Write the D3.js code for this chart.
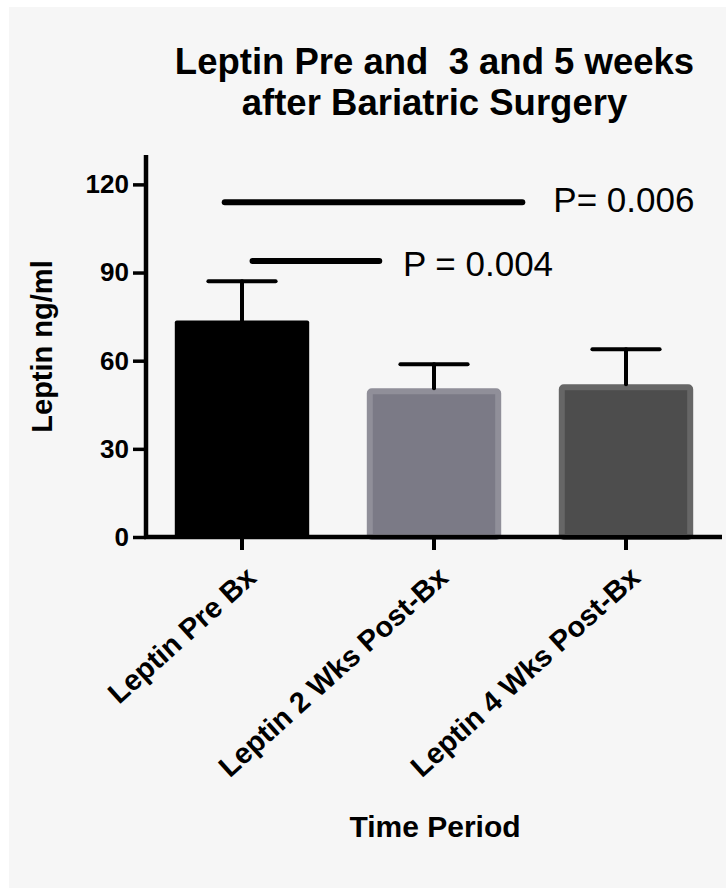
<!DOCTYPE html>
<html>
<head>
<meta charset="utf-8">
<script src="https://cdn.jsdelivr.net/npm/d3@7"></script>
<style>
  html, body { margin: 0; padding: 0; background: #ffffff; }
  svg { display: block; }
  text { font-family: "Liberation Sans", Arial, Helvetica, sans-serif; white-space: pre; }
</style>
</head>
<body>
<div id="chart"></div>
<script>
// ---- data ----
const categories = ["Leptin Pre Bx", "Leptin 2 Wks Post-Bx", "Leptin 4 Wks Post-Bx"];
const means = [73.7, 50.6, 52.0];
const sem = [13.3, 8.2, 11.9];
const yTicks = [0, 30, 60, 90, 120];
const titleLines = ["Leptin Pre and  3 and 5 weeks", "after Bariatric Surgery"];
const yTitle = "Leptin ng/ml";
const xTitle = "Time Period";
// significance annotations (x in category-index units, y in data units)
const sigFrom = [-0.09, 0.055];
const sigTo = [1.46, 0.715];
const sigY = [113.9, 93.9];
const sigLabels = ["P= 0.006", "P = 0.004"];

// ---- layout / style ----
const W = 726, H = 888;
const plot = { left: 146, right: 722, top: 155, bottom: 537 };
const barFill = ["#000000", "#7b7a86", "#4d4d4d"];
const barStroke = ["#000000", "#908f99", "#666666"];

const svg = d3.select("#chart").append("svg")
  .attr("width", W).attr("height", H);

// background panel
svg.append("rect").attr("x", 9).attr("y", 7).attr("width", W - 9).attr("height", H - 7)
  .attr("fill", "#f6f6f6");

const x = d3.scaleBand().domain(categories)
  .range([plot.left, plot.right]).paddingInner(0.3).paddingOuter(0.15);
const y = d3.scaleLinear().domain([0, 130]).range([plot.bottom, plot.top]);
const xi = d3.scaleLinear().domain([0, 1])
  .range([x(categories[0]) + x.bandwidth() / 2, x(categories[1]) + x.bandwidth() / 2]);

// title
svg.append("g").selectAll("text").data(titleLines).join("text")
  .attr("x", 434.5).attr("y", (d, i) => 73.5 + i * 41.5)
  .attr("text-anchor", "middle").attr("font-weight", "bold").attr("font-size", 36.5)
  .attr("fill", "#000").text(d => d);

// bars
const sw = 6;
svg.append("g").selectAll("rect").data(categories).join("rect")
  .attr("x", (d, i) => x(d) + (i ? sw / 2 : 0))
  .attr("y", (d, i) => y(means[i]) + (i ? sw / 2 : 0))
  .attr("width", (d, i) => x.bandwidth() - (i ? sw : 0))
  .attr("height", (d, i) => y(0) - y(means[i]) - (i ? sw / 2 : 0))
  .attr("rx", 2)
  .attr("fill", (d, i) => barFill[i])
  .attr("stroke", (d, i) => barStroke[i])
  .attr("stroke-width", (d, i) => i ? sw : 0);

// error bars (upper only)
const eb = svg.append("g").attr("stroke", "#000").attr("stroke-width", 4).attr("stroke-linecap", "round");
categories.forEach((c, i) => {
  const cx = x(c) + x.bandwidth() / 2;
  const capW = x.bandwidth() * 0.25;
  eb.append("line").attr("x1", cx).attr("x2", cx)
    .attr("y1", y(means[i])).attr("y2", y(means[i] + sem[i]));
  eb.append("line").attr("x1", cx - capW).attr("x2", cx + capW)
    .attr("y1", y(means[i] + sem[i])).attr("y2", y(means[i] + sem[i]));
});

// y axis
const yAxis = d3.axisLeft(y).tickValues(yTicks).tickSize(13).tickPadding(4).tickSizeOuter(0);
const gy = svg.append("g").attr("transform", `translate(${plot.left},0)`).call(yAxis);
gy.select(".domain").attr("stroke", "#000").attr("stroke-width", 4.5)
  .attr("d", `M0,${plot.top}V${plot.bottom + 2}`);
gy.selectAll(".tick line").attr("stroke", "#000").attr("stroke-width", 3.5);
gy.selectAll(".tick text").attr("font-size", 26).attr("font-weight", "bold").attr("fill", "#000")
  .attr("font-family", "Liberation Sans, Arial, sans-serif");

// x axis
const xAxis = d3.axisBottom(x).tickSize(13).tickSizeOuter(0).tickFormat("");
const gx = svg.append("g").attr("transform", `translate(0,${plot.bottom})`).call(xAxis);
gx.select(".domain").attr("stroke", "#000").attr("stroke-width", 4.5)
  .attr("d", `M${plot.left - 2},0H${plot.right}`);
gx.selectAll(".tick line").attr("stroke", "#000").attr("stroke-width", 4);

// rotated x labels
svg.append("g").selectAll("text").data(categories).join("text")
  .attr("transform", d => `translate(${x(d) + x.bandwidth() / 2 + 16},${580}) rotate(-42)`)
  .attr("text-anchor", "end").attr("font-weight", "bold").attr("font-size", 29)
  .attr("fill", "#000").text(d => d);

// axis titles
svg.append("text").attr("transform", `translate(52,346.5) rotate(-90)`)
  .attr("text-anchor", "middle").attr("font-weight", "bold").attr("font-size", 29)
  .attr("fill", "#000").text(yTitle);
svg.append("text").attr("x", 435).attr("y", 837)
  .attr("text-anchor", "middle").attr("font-weight", "bold").attr("font-size", 30)
  .attr("fill", "#000").text(xTitle);

// significance lines
const sigGap = [31, 23.6], sigDy = [9.3, 15];
const sg = svg.append("g");
sigLabels.forEach((lab, i) => {
  sg.append("line").attr("x1", xi(sigFrom[i])).attr("x2", xi(sigTo[i]))
    .attr("y1", y(sigY[i])).attr("y2", y(sigY[i]))
    .attr("stroke", "#000").attr("stroke-width", 6).attr("stroke-linecap", "round");
  sg.append("text").attr("x", xi(sigTo[i]) + sigGap[i]).attr("y", y(sigY[i]) + sigDy[i])
    .attr("font-size", 35).attr("fill", "#000").text(lab);
});
</script>
</body>
</html>
